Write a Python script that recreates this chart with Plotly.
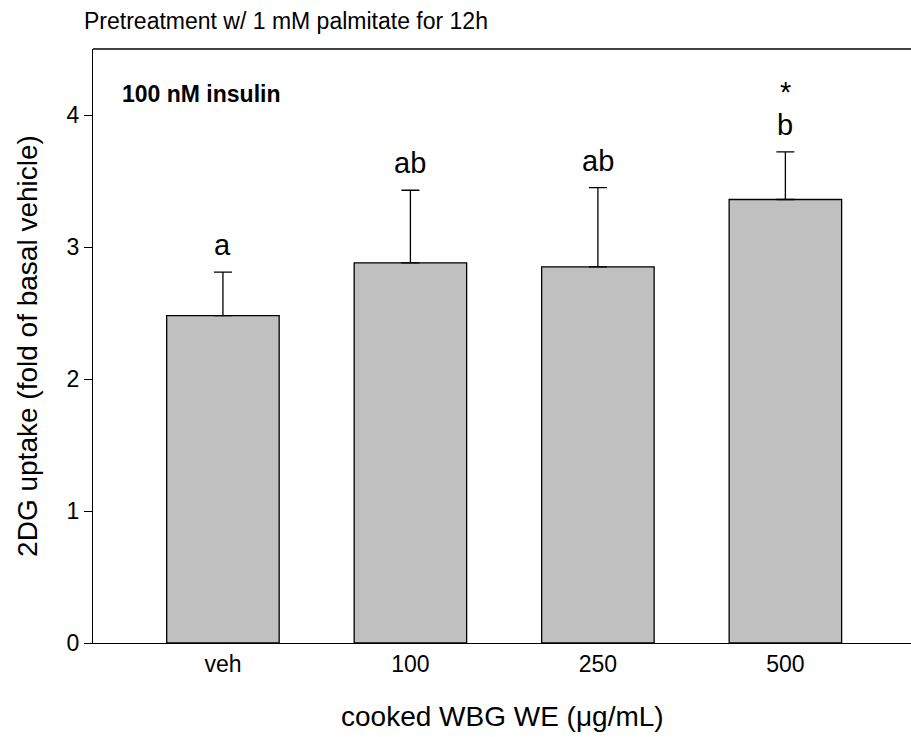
import plotly.graph_objects as go

categories = ["veh", "100", "250", "500"]
means = [2.48, 2.88, 2.85, 3.36]
errors = [0.33, 0.55, 0.60, 0.36]
letters = ["a", "ab", "ab", "b"]
stars = ["", "", "", "*"]

FONT = "Liberation Sans, Arial, sans-serif"
L, T, B, W, H = 93, 49, 94, 911, 737
PW, PH = W - L, H - T - B

fig = go.Figure()
fig.add_trace(go.Bar(
    x=list(range(len(categories))), y=means,
    width=0.6,
    marker=dict(color="#c0c0c0", line=dict(color="#000000", width=1.3)),
    error_y=dict(type="data", array=errors, symmetric=False, arrayminus=[0]*4,
                 color="#000000", thickness=1.3, width=9, visible=True),
    showlegend=False,
))

annotations = []
for i, (m, e, l, s) in enumerate(zip(means, errors, letters, stars)):
    annotations.append(dict(x=i, y=m + e, xref="x", yref="y", text=l, showarrow=False,
                            yanchor="bottom", yshift=9,
                            font=dict(family=FONT, size=29, color="#000")))
    if s:
        annotations.append(dict(x=i, y=m + e, xref="x", yref="y", text=s, showarrow=False,
                                yanchor="bottom", yshift=42,
                                font=dict(family=FONT, size=29, color="#000")))

annotations += [
    dict(x=(82 - L) / PW, y=1 + (T - 21) / PH, xref="paper", yref="paper",
         text="Pretreatment w/ 1 mM palmitate for 12h", showarrow=False,
         xanchor="left", yanchor="middle", font=dict(family=FONT, size=23, color="#000")),
    dict(x=(120 - L) / PW, y=(H - B - 94) / PH, xref="paper", yref="paper",
         text="<b>100 nM insulin</b>", showarrow=False,
         xanchor="left", yanchor="middle", font=dict(family=FONT, size=23, color="#000")),
    dict(x=0.5, y=(H - B - 716) / PH, xref="paper", yref="paper",
         text="cooked WBG WE (μg/mL)", showarrow=False,
         xanchor="center", yanchor="middle", font=dict(family=FONT, size=28, color="#000")),
]

fig.update_layout(
    width=W, height=H,
    margin=dict(l=L, r=0, t=T, b=B, pad=0),
    paper_bgcolor="white", plot_bgcolor="white",
    font=dict(family=FONT, color="#000"),
    xaxis=dict(range=[-0.693, 3.67], tickvals=list(range(len(categories))), ticktext=categories,
               showline=True, linecolor="#000", linewidth=1.3, mirror=False,
               ticks="", tickfont=dict(size=23), showgrid=False, zeroline=False, automargin=False),
    yaxis=dict(range=[0, 4.5], tickvals=[0, 1, 2, 3, 4], showline=True, linecolor="#000", linewidth=1.3,
               ticks="outside", ticklen=8, tickwidth=1.3, tickcolor="#000", tickfont=dict(size=23),
               showgrid=False, zeroline=False, automargin=False,
               title=dict(text="2DG uptake (fold of basal vehicle)", font=dict(size=28), standoff=20)),
    annotations=annotations,
    shapes=[dict(type="line", xref="paper", yref="paper", x0=0, x1=1, y0=1, y1=1,
                 line=dict(color="#000", width=1.3))],
)

fig.write_html("out.html")
